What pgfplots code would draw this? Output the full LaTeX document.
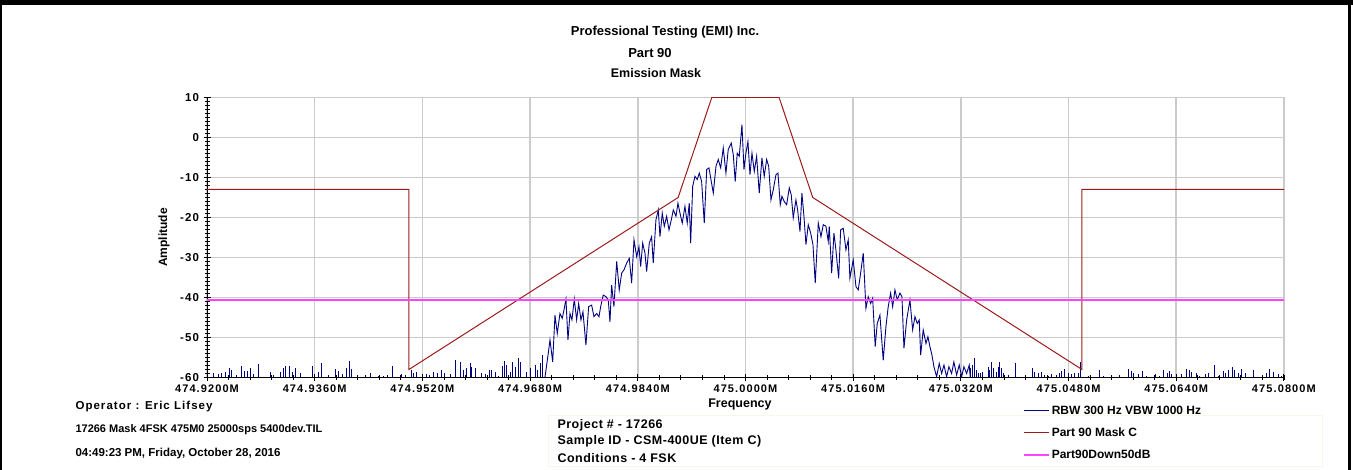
\documentclass[border=0pt]{standalone}
\usepackage{pgfplots}
\pgfplotsset{compat=1.18}
\usepackage{pgfplotstable}
\usepackage{fontspec}
\setmainfont{Liberation Sans}
\newfontfamily\tickfont[LetterSpace=10]{Liberation Sans}
\newfontfamily\widefont[LetterSpace=4]{Liberation Sans}
\newfontfamily\widerfont[LetterSpace=9]{Liberation Sans}

\definecolor{trace}{HTML}{000080}
\definecolor{maskc}{HTML}{9E1A1A}
\definecolor{pinkl}{HTML}{FF44FF}
\definecolor{gridc}{HTML}{CBCBCB}
\definecolor{faint}{HTML}{FAF6EE}

% Part 90 Mask C  (x = offset from 475 MHz in kHz)
\pgfplotstableread{
x y
-80 -13
-50 -13
-50 -58
-10 -15
-5 10
5 10
10 -15
50 -58
50 -13
80 -13
}\maskdata

\pgfplotstableread{
x y
-80 -40.6
80 -40.6
}\downdata

% main lobe of the measured trace
\pgfplotstableread{
x y
-29.79 -60
-29.30 -54.0
-29.04 -50.6
-28.64 -56.1
-28.30 -44.4
-27.96 -49.0
-27.56 -44.0
-27.22 -45.2
-26.96 -43.1
-26.67 -40.4
-26.37 -50.6
-26.07 -44.0
-25.78 -45.6
-25.43 -40.4
-25.08 -45.6
-24.78 -41.5
-24.44 -45.6
-24.14 -43.6
-23.70 -51.9
-23.30 -42.3
-22.85 -41.9
-22.51 -44.8
-22.11 -44.0
-21.76 -44.8
-21.51 -42.3
-21.13 -39.4
-20.72 -39.8
-20.38 -40.6
-20.13 -46.1
-19.88 -36.9
-19.54 -42.3
-19.13 -31.0
-18.75 -38.1
-18.39 -33.9
-18.05 -33.1
-17.65 -31.4
-17.26 -30.2
-16.91 -36.4
-16.56 -25.6
-16.16 -29.8
-15.82 -27.3
-15.57 -32.3
-15.27 -26.4
-14.93 -28.9
-14.68 -33.5
-14.29 -26.4
-13.94 -24.8
-13.70 -31.4
-13.30 -20.6
-12.95 -18.1
-12.70 -24.8
-12.36 -18.9
-12.06 -22.2
-11.71 -19.7
-11.36 -23.1
-11.02 -20.6
-10.72 -18.1
-10.32 -19.7
-10.03 -16.4
-9.73 -18.9
-9.39 -21.4
-8.99 -17.2
-8.65 -21.4
-8.35 -16.4
-8.14 -26.4
-7.84 -12.2
-7.50 -9.7
-7.16 -10.5
-6.86 -8.9
-6.51 -11.0
-6.12 -21.4
-5.76 -8.0
-5.42 -7.6
-5.13 -10.5
-4.78 -13.9
-4.38 -7.2
-4.04 -5.5
-3.68 -7.6
-3.30 -2.6
-2.90 -8.9
-2.56 -3.0
-2.11 -1.4
-1.81 -4.3
-1.52 -11.0
-1.22 -3.9
-0.92 -4.7
-0.52 3.2
-0.22 -8.0
0.07 -3.9
0.37 -1.0
0.67 -9.3
0.97 -3.9
1.31 -8.5
1.66 -4.7
2.05 -13.9
2.45 -5.1
2.79 -9.7
3.15 -5.5
3.45 -7.2
3.79 -15.6
4.13 -13.1
4.53 -9.3
4.83 -8.9
5.17 -16.8
5.42 -14.7
5.76 -16.0
6.12 -16.8
6.51 -12.6
6.80 -14.3
7.10 -20.1
7.50 -15.6
7.75 -18.1
8.10 -23.5
8.39 -13.9
8.69 -19.7
8.99 -26.8
9.33 -21.8
9.69 -23.9
10.03 -26.8
10.37 -36.4
10.82 -21.4
11.22 -24.8
11.56 -21.8
11.96 -22.2
12.30 -26.0
12.45 -22.2
12.81 -33.9
13.15 -23.9
13.44 -28.1
13.85 -35.2
14.14 -23.1
14.53 -22.7
14.93 -28.1
15.27 -25.6
15.52 -35.2
16.01 -30.6
16.42 -37.3
16.76 -38.1
17.11 -33.9
17.50 -28.9
17.90 -42.7
18.24 -39.8
18.60 -41.5
18.90 -40.2
19.28 -52.3
19.58 -46.5
19.98 -44.4
20.47 -55.7
20.87 -47.3
21.21 -42.3
21.57 -38.9
21.87 -42.3
22.21 -38.1
22.55 -40.6
22.95 -38.9
23.25 -39.8
23.55 -52.7
23.95 -45.6
24.44 -40.6
24.84 -48.1
25.18 -44.8
25.52 -46.5
25.82 -45.6
26.03 -54.4
26.41 -48.1
26.82 -51.5
27.11 -49.8
27.41 -52.3
27.71 -54.4
28.00 -57.3
28.40 -59.8
28.79 -56.5
29.15 -59.0
29.49 -56.9
29.89 -59.8
30.23 -57.3
30.63 -59.0
30.97 -56.1
31.37 -59.4
31.76 -56.9
32.12 -59.8
32.46 -57.3
32.86 -59.0
33.25 -56.9
33.40 -60
}\lobe

% noise-floor spikes of the trace (peak values, floor at -60)
\pgfplotstableread{
x y
-79.06 -59.0
-78.32 -59.2
-77.92 -59.0
-77.22 -58.6
-76.68 -57.7
-76.43 -58.2
-75.59 -59.4
-74.85 -57.1
-74.45 -58.4
-74.01 -58.4
-73.56 -57.6
-73.12 -59.2
-72.37 -56.7
-70.54 -58.6
-70.14 -59.4
-69.15 -58.6
-68.66 -57.7
-68.31 -57.2
-67.82 -57.1
-67.32 -58.6
-66.93 -57.6
-66.18 -59.0
-64.35 -57.1
-63.46 -58.6
-62.96 -56.5
-61.97 -59.4
-60.88 -57.9
-60.49 -58.4
-59.84 -59.2
-59.25 -57.7
-58.90 -55.9
-58.50 -57.9
-57.61 -59.8
-56.53 -59.4
-55.68 -59.0
-54.55 -59.6
-53.80 -59.7
-53.21 -59.4
-52.41 -57.1
-51.67 -59.8
-51.08 -59.2
-50.58 -59.4
-49.69 -58.2
-49.35 -59.0
-48.85 -58.6
-47.86 -59.8
-47.36 -59.2
-47.02 -59.4
-46.38 -58.6
-45.78 -59.0
-45.14 -58.2
-44.74 -59.0
-43.90 -59.2
-43.16 -55.7
-42.41 -56.1
-41.92 -58.2
-41.42 -57.7
-40.93 -56.5
-40.68 -57.3
-40.09 -57.7
-39.29 -59.0
-38.70 -59.2
-38.11 -58.2
-37.71 -58.2
-37.11 -58.6
-36.72 -59.6
-36.07 -57.1
-35.83 -55.9
-35.48 -56.9
-34.99 -58.6
-34.64 -56.1
-34.24 -57.3
-33.75 -55.2
-33.40 -56.1
-32.51 -58.6
-32.01 -57.7
-31.27 -56.9
-30.93 -58.2
-30.53 -56.5
-30.13 -54.4
33.45 -57.7
33.75 -56.9
34.00 -55.2
34.34 -58.2
34.59 -59.0
34.94 -59.0
35.24 -58.6
36.07 -57.3
36.32 -58.2
36.62 -56.2
36.82 -57.7
37.31 -58.6
37.56 -57.3
37.81 -56.2
38.06 -57.6
38.40 -59.0
39.05 -59.4
40.04 -56.5
41.28 -59.8
42.66 -57.7
43.01 -58.6
43.50 -59.0
44.00 -58.6
44.49 -59.4
44.99 -59.6
45.48 -59.2
46.23 -59.4
46.62 -59.0
46.97 -58.4
47.32 -57.9
47.96 -59.0
48.46 -59.2
48.95 -59.0
49.45 -59.0
49.79 -56.1
50.93 -59.6
51.58 -59.8
52.66 -58.2
53.16 -59.6
53.65 -59.8
54.40 -59.8
55.54 -59.4
56.87 -57.9
57.37 -58.4
57.61 -59.0
58.36 -59.2
59.00 -58.4
59.60 -59.6
60.34 -59.8
60.84 -59.2
61.58 -59.7
62.07 -58.2
62.67 -59.0
62.96 -58.4
63.31 -59.2
64.06 -59.6
64.80 -59.2
65.54 -57.9
65.93 -58.2
66.28 -58.6
67.03 -59.0
67.52 -59.6
68.36 -59.2
68.76 -59.0
69.75 -56.8
70.24 -59.6
70.98 -58.4
71.38 -59.0
71.73 -58.2
72.37 -57.3
72.72 -58.2
73.21 -59.0
73.71 -57.9
74.35 -58.8
75.44 -58.2
76.68 -59.8
77.43 -59.0
77.92 -57.9
78.41 -58.6
79.16 -59.2
79.65 -59.6
}\spikes

\begin{document}
\begin{tikzpicture}
\path[use as bounding box] (0pt,0pt) rectangle (1353pt,470pt);
% faint box below the plot
\draw[faint, line width=1pt] (548pt,54pt) rectangle (1322pt,3pt);
% frame of the report
\fill[black] (0pt,465pt) rectangle (1353pt,470pt);
\fill[black] (0pt,0pt) rectangle (2pt,470pt);
\fill[black] (1348pt,0pt) rectangle (1351pt,470pt);

% titles
\node[font=\bfseries\fontsize{13}{15}\selectfont] at (665pt,438pt) {Professional Testing (EMI) Inc.};
\node[font=\bfseries\fontsize{13}{15}\selectfont] at (650pt,417pt) {Part 90};
\node[font=\bfseries\fontsize{12.5}{15}\selectfont] at (656pt,397pt) {Emission Mask};

\begin{axis}[
  at={(207pt,92.5pt)}, anchor=south west,
  scale only axis, width=1077pt, height=280pt,
  xmin=-80, xmax=80, ymin=-60, ymax=10,
  axis x line*=bottom, axis y line*=left,
  axis line style={black, line width=0.9pt, -},
  xtick={-80,-64,-48,-32,-16,0,16,32,48,64,80},
  xticklabels={474.9200M,474.9360M,474.9520M,474.9680M,474.9840M,475.0000M,475.0160M,475.0320M,475.0480M,475.0640M,475.0800M},
  ytick={-60,-50,-40,-30,-20,-10,0,10},
  yticklabels={-60,-50,-40,-30,-20,-10,0,10},
  minor xtick={-76.8,-73.6,...,80},
  minor ytick={-59,-58,...,10},
  tick align=center,
  major tick length=7pt,
  minor tick length=5pt,
  major tick style={black, line width=0.9pt},
  minor tick style={black, line width=0.7pt},
  grid=major,
  major grid style={gridc, line width=1.6pt},
  minor grid style={draw=none},
  ticklabel style={font=\tickfont\bfseries\fontsize{11}{13}\selectfont},
  yticklabel style={font=\tickfont\bfseries\fontsize{11.5}{13}\selectfont, xshift=-1pt},
  xlabel={Frequency},
  xlabel style={font=\bfseries\fontsize{12.5}{14}\selectfont, at={(axis description cs:0.4949,-0.098)}, anchor=center},
  ylabel={Amplitude},
  ylabel style={font=\bfseries\fontsize{12}{14}\selectfont, at={(axis description cs:-0.0315,0.5)}, anchor=south},
  legend style={at={(axis description cs:0.7575,-0.093)}, anchor=north west, draw=none, fill=none,
    font=\bfseries\fontsize{12}{14}\selectfont, row sep=8pt, inner sep=0pt},
  legend cell align=left,
  legend image code/.code={\path (0pt,0pt) -- (25pt,0pt); \draw[#1, line width=1.2pt] (0pt,0pt) -- (15pt,0pt);},
  clip=true,
]
\addplot[trace, line width=0.9pt, forget plot, quiver={u=0, v=\thisrow{y}+60}] table[x=x, y expr=-60] {\spikes};
\addplot[trace, line width=0.9pt] table[x=x, y=y] {\lobe};
\addlegendentry{RBW 300 Hz VBW 1000 Hz}
\addplot[maskc, line width=1pt] table[x=x, y=y] {\maskdata};
\addlegendentry{Part 90 Mask C}
\addplot[pinkl, line width=1.8pt] table[x=x, y=y] {\downdata};
\addlegendentry{Part90Down50dB}
\end{axis}

% information text
\node[anchor=west, font=\widerfont\bfseries\fontsize{11.5}{13}\selectfont] at (72pt,63pt) {Operator : Eric Lifsey};
\node[anchor=west, font=\bfseries\fontsize{11}{13}\selectfont] at (72pt,40pt) {17266 Mask 4FSK 475M0 25000sps 5400dev.TIL};
\node[anchor=west, font=\bfseries\fontsize{11.5}{13}\selectfont] at (72pt,16pt) {04:49:23 PM, Friday, October 28, 2016};
\node[anchor=west, font=\widefont\bfseries\fontsize{12.5}{14}\selectfont] at (554pt,45pt) {Project \# - 17266};
\node[anchor=west, font=\widefont\bfseries\fontsize{12.5}{14}\selectfont] at (554pt,29pt) {Sample ID - CSM-400UE (Item C)};
\node[anchor=west, font=\widefont\bfseries\fontsize{12.5}{14}\selectfont] at (554pt,12pt) {Conditions - 4 FSK};
\end{tikzpicture}
\end{document}
